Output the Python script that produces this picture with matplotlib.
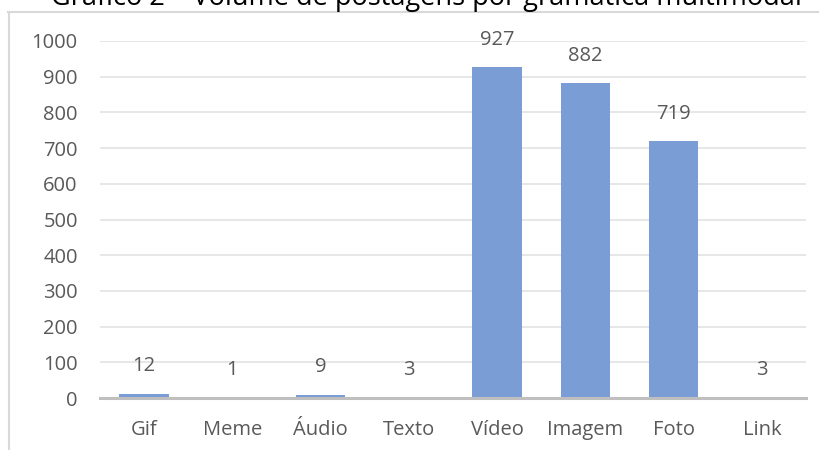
import matplotlib
matplotlib.use("Agg")
import matplotlib.pyplot as plt
from matplotlib.lines import Line2D

categories = ["Gif", "Meme", "Áudio", "Texto", "Vídeo", "Imagem", "Foto", "Link"]
values = [12, 1, 9, 3, 927, 882, 719, 3]
yticks = [0, 100, 200, 300, 400, 500, 600, 700, 800, 900, 1000]
title = "Gráfico 2 – Volume de postagens por gramática multimodal"

W, H = 820, 450
plt.rcParams["font.family"] = ["Open Sans", "DejaVu Sans"]
text_color = "#595959"
bar_color = "#7A9DD6"
grid_color = "#E3E3E3"

fig = plt.figure(figsize=(W / 100, H / 100), dpi=100)
ax = fig.add_axes([100 / W, 52 / H, 706 / W, 357 / H])

x = list(range(len(categories)))
bars = ax.bar(x, values, width=0.56, color=bar_color, zorder=2)
for b, v in zip(bars, values):
    ax.annotate(str(v), (b.get_x() + b.get_width() / 2, v), xytext=(0, 12.5),
                textcoords="offset points", ha="center", va="bottom",
                fontsize=14.5, color=text_color)

ax.set_xlim(-0.5, len(categories) - 0.5)
ax.set_ylim(0, 1000)
ax.set_yticks(yticks)
ax.set_yticklabels([str(t) for t in yticks])
ax.set_xticks(x)
ax.set_xticklabels(categories)
ax.tick_params(axis="y", length=0, pad=16, labelsize=14.5, labelcolor=text_color)
ax.tick_params(axis="x", length=0, pad=16, labelsize=14.5, labelcolor=text_color)
ax.grid(axis="y", color=grid_color, linewidth=1.2, zorder=0)
for s in ["top", "right", "left"]:
    ax.spines[s].set_visible(False)
ax.spines["bottom"].set_color("#BFBFBF")
ax.spines["bottom"].set_linewidth(2.2)
ax.spines["bottom"].set_zorder(3)

# chart frame
fig.add_artist(Line2D([8.5 / W, 8.5 / W], [0, 1 - 12 / H], transform=fig.transFigure,
                      color="#D9D9D9", linewidth=1.5))
fig.add_artist(Line2D([8 / W, 1], [1 - 12 / H, 1 - 12 / H], transform=fig.transFigure,
                      color="#D9D9D9", linewidth=1.5))

fig.text(0.52, 1 - 5.5 / H, title, ha="center", va="baseline", fontsize=19.5, color="#000000")

fig.savefig("out.png", dpi=100)
